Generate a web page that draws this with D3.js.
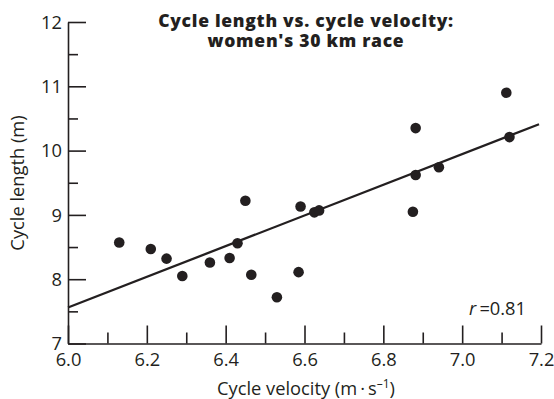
<!DOCTYPE html>
<html>
<head>
<meta charset="utf-8">
<script src="https://cdn.jsdelivr.net/npm/d3@7"></script>
<style>
  html, body { margin: 0; padding: 0; background: #fff; }
  svg { display: block; font-family: "Open Sans", "Noto Sans", sans-serif; }
</style>
</head>
<body>
<svg id="chart" width="554" height="399"></svg>
<script>
// ---- data ----
const velocity = [6.13, 6.21, 6.25, 6.29, 6.36, 6.41, 6.43, 6.45, 6.465, 6.53,
                  6.585, 6.59, 6.625, 6.637, 6.875, 6.882, 6.882, 6.941, 7.112, 7.12];
const cycleLength = [8.57, 8.47, 8.32, 8.05, 8.26, 8.33, 8.56, 9.22, 8.07, 7.72,
                     8.11, 9.13, 9.04, 9.07, 9.05, 10.35, 9.62, 9.74, 10.90, 10.21];
const fitX = [6.0, 7.195];
const fitY = [7.56, 10.41];
const xMajorTicks = [6.0, 6.2, 6.4, 6.6, 6.8, 7.0, 7.2];
const xMinorTicks = [6.1, 6.3, 6.5, 6.7, 6.9, 7.1];
const yMajorTicks = [7, 8, 9, 10, 11, 12];
const yMinorTicks = [7.5, 8.5, 9.5, 10.5, 11.5];
const titleLines = ["Cycle length vs. cycle velocity:", "women's 30 km race"];
const rLabel = "0.81";

// ---- drawing ----
const ink = "#231f20";
const svg = d3.select("#chart");
const x = d3.scaleLinear().domain([6.0, 7.2]).range([68, 541]);
const y = d3.scaleLinear().domain([7, 12]).range([343.5, 22]);
const fs = 18.3;

// x axis
const gx = svg.append("g").attr("transform", `translate(0,${y(7)})`);
gx.call(d3.axisBottom(x).tickValues(xMajorTicks).tickFormat(d3.format(".1f"))
  .tickSize(-18).tickSizeOuter(0).tickPadding(10));
gx.append("g").call(d3.axisBottom(x).tickValues(xMinorTicks).tickFormat("")
  .tickSize(-11).tickSizeOuter(0)).select(".domain").remove();

// y axis
const gy = svg.append("g").attr("transform", `translate(${x(6.0)},0)`);
gy.call(d3.axisLeft(y).tickValues(yMajorTicks).tickFormat(d3.format("d"))
  .tickSize(-18).tickSizeOuter(0).tickPadding(6));
gy.append("g").call(d3.axisLeft(y).tickValues(yMinorTicks).tickFormat("")
  .tickSize(-10).tickSizeOuter(0)).select(".domain").remove();

svg.selectAll(".domain, .tick line").attr("stroke", ink).attr("stroke-width", 1.6);
svg.selectAll(".tick text").attr("fill", ink).attr("font-size", fs)
  .attr("font-family", "'Open Sans', sans-serif");
gy.selectAll(".tick text").attr("dy", "0.34em");
gx.selectAll(".tick text").attr("dy", "0.7em");

// regression line
svg.append("line")
  .attr("x1", x(fitX[0])).attr("y1", y(fitY[0]))
  .attr("x2", x(fitX[1])).attr("y2", y(fitY[1]))
  .attr("stroke", ink).attr("stroke-width", 2.3);

// points
svg.append("g").selectAll("circle").data(velocity).join("circle")
  .attr("cx", d => x(d)).attr("cy", (d, i) => y(cycleLength[i]))
  .attr("r", 5.3).attr("fill", ink);

// title (letter-spaced so the first line spans the reference width)
const title = svg.append("text").attr("text-anchor", "middle")
  .attr("font-weight", 800).attr("font-size", 17.5).attr("fill", ink);
titleLines.forEach((t, i) => {
  title.append("tspan").attr("x", 306).attr("y", 26.5 + i * 20).text(t);
});
const firstLine = title.select("tspan");
const w1 = firstLine.node().getComputedTextLength();
if (w1 > 0) {
  const ls = Math.max(0, Math.min(1.5, (295 - w1) / (titleLines[0].length - 1)));
  title.attr("letter-spacing", ls);
}

// r label
const rt = svg.append("text").attr("x", 526).attr("y", 315)
  .attr("text-anchor", "end").attr("font-size", fs).attr("fill", ink);
rt.append("tspan").attr("font-style", "italic").text("r");
rt.append("tspan").text("\u2009=" + rLabel);

// x axis label
const xl = svg.append("text").attr("x", 306).attr("y", 395)
  .attr("text-anchor", "middle").attr("font-size", fs).attr("fill", ink);
xl.append("tspan").text("Cycle velocity (m\u2009\u00b7\u2009s");
xl.append("tspan").attr("dy", -7).attr("font-size", 12).text("\u20131");
xl.append("tspan").attr("dy", 7).text(")");

// y axis label
svg.append("text")
  .attr("transform", "translate(23.5,183) rotate(-90)")
  .attr("text-anchor", "middle").attr("font-size", fs).attr("fill", ink)
  .text("Cycle length (m)");
</script>
</body>
</html>
